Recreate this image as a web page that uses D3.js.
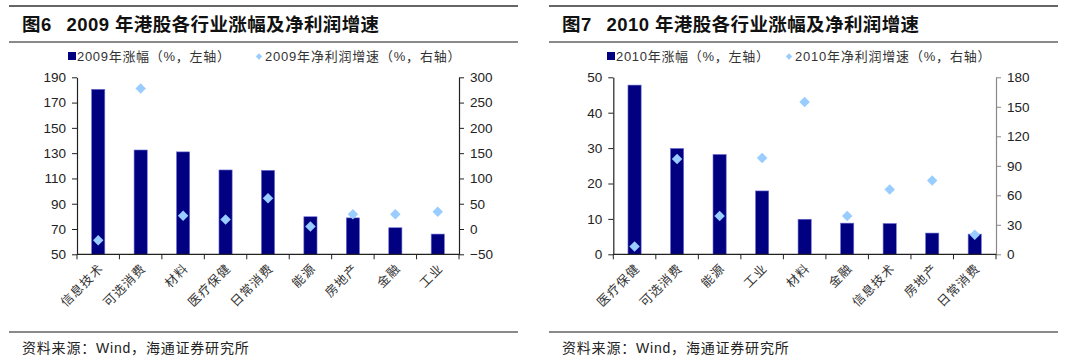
<!DOCTYPE html>
<html><head><meta charset="utf-8">
<script src="https://cdn.jsdelivr.net/npm/d3@7"></script>
<style>
body{margin:0;background:#fff;}
text{font-family:"Liberation Sans","Noto Sans CJK SC",Arial,sans-serif;}
</style></head><body>
<svg id="c" width="1080" height="361"></svg>
<script>
// ---- data ----
const cats2009 = ["信息技术","可选消费","材料","医疗保健","日常消费","能源","房地产","金融","工业"];
const gain2009 = [180.5,132.5,131,116.7,116.4,79.7,78.8,71,66];
const profit2009 = [-22,278,26,19,61,5,29,29,34];
const leftTicks2009 = [50,70,90,110,130,150,170,190];
const rightTicks2009 = [-50,0,50,100,150,200,250,300];

const cats2010 = ["医疗保健","可选消费","能源","工业","材料","金融","信息技术","房地产","日常消费"];
const gain2010 = [47.8,29.9,28.2,17.9,9.9,8.8,8.7,6.0,5.7];
const profit2010 = [8,97,39,98,155,39,66,75,20];
const leftTicks2010 = [0,10,20,30,40,50];
const rightTicks2010 = [0,30,60,90,120,150,180];

const titles = ["2009 年港股各行业涨幅及净利润增速","2010 年港股各行业涨幅及净利润增速"];
const figNums = ["图6","图7"];
const legendBar = ["2009年涨幅（%，左轴）","2010年涨幅（%，左轴）"];
const legendDot = ["2009年净利润增速（%，右轴）","2010年净利润增速（%，右轴）"];
const source = "资料来源：Wind，海通证券研究所";

const svg = d3.select("#c");
const BAR = "#000080", DOT = "#99CCFF";

function panel(o){
  const g = svg.append("g").attr("transform",`translate(${o.ox},0)`);
  // frame lines
  g.append("line").attr("x1",9).attr("x2",o.lineEnd).attr("y1",6).attr("y2",6).attr("stroke","#333").attr("stroke-width",1.5);
  g.append("line").attr("x1",9).attr("x2",o.lineEnd).attr("y1",42).attr("y2",42).attr("stroke","#8a8a8a").attr("stroke-width",2);
  g.append("line").attr("x1",9).attr("x2",o.lineEnd).attr("y1",332).attr("y2",332).attr("stroke","#8a8a8a").attr("stroke-width",2);
  // title
  const t = g.append("text").attr("x",22).attr("y",31).attr("font-size",18.5).attr("font-weight","bold").attr("fill","#111")
    .attr("letter-spacing",0.4)
    .style("font-family","'Liberation Sans','Noto Sans CJK SC',sans-serif");
  t.append("tspan").text(o.fig);
  t.append("tspan").attr("dx",15).text(o.title);
  // source
  g.append("text").attr("x",22).attr("y",353).attr("font-size",14).attr("letter-spacing",0.8).attr("fill","#222").text(source);

  const x0 = o.x0, x1 = o.x1, yTop = 77.3, yBot = 254.3;
  const x = d3.scaleBand().domain(o.cats).range([x0,x1]).paddingInner(0).paddingOuter(0);
  const yl = d3.scaleLinear().domain(o.lDom).range([yBot,yTop]);
  const yr = d3.scaleLinear().domain(o.rDom).range([yBot,yTop]);

  // bars
  const bw = x.bandwidth()*0.31;
  g.selectAll("rect.bar").data(o.gain).join("rect")
    .attr("x",(d,i)=>x(o.cats[i])+x.bandwidth()/2-bw/2)
    .attr("width",bw)
    .attr("y",d=>yl(d)).attr("height",d=>yBot-yl(d))
    .attr("fill",BAR).attr("stroke","#6f6fd6").attr("stroke-width",0.6);

  // diamonds
  g.selectAll("path.dot").data(o.profit).join("path")
    .attr("d",d3.symbol().type(d3.symbolSquare).size(55))
    .attr("transform",(d,i)=>`translate(${x(o.cats[i])+x.bandwidth()/2},${yr(d)}) rotate(45)`)
    .attr("fill",DOT);

  // axes
  const axL = g.append("g").attr("transform",`translate(${x0},0)`)
    .call(d3.axisLeft(yl).tickValues(o.lTicks).tickSize(5).tickPadding(6).tickSizeOuter(0));
  const axR = g.append("g").attr("transform",`translate(${x1},0)`)
    .call(d3.axisRight(yr).tickValues(o.rTicks).tickSize(5).tickPadding(6).tickSizeOuter(0));
  // x axis line + ticks at band boundaries
  const xb = g.append("g");
  xb.append("line").attr("x1",x0).attr("x2",x1).attr("y1",yBot).attr("y2",yBot).attr("stroke","#222").attr("stroke-width",1.2);
  const bounds = o.cats.map(c=>x(c)).concat([x1]);
  xb.selectAll("line.tk").data(bounds).join("line").attr("class","tk")
    .attr("x1",d=>d).attr("x2",d=>d).attr("y1",yBot).attr("y2",yBot+5).attr("stroke","#222");
  [axL,axR].forEach(a=>{
    a.select(".domain").attr("stroke",o.axColor).attr("stroke-width",1.2);
    a.selectAll(".tick line").attr("stroke",o.axColor);
    a.selectAll(".tick text").attr("font-size",13.5).attr("fill","#222")
      .style("font-family","'Liberation Sans',Arial,sans-serif");
  });
  if(o.rightGray){ axR.select(".domain").attr("stroke","#888"); axR.selectAll(".tick line").attr("stroke","#888"); }
  // x labels
  g.selectAll("text.xl").data(o.cats).join("text").attr("class","xl")
    .attr("transform",d=>`translate(${x(d)+x.bandwidth()/2+6},${yBot+15}) rotate(-45)`)
    .attr("text-anchor","end").attr("font-size",12.5).attr("letter-spacing",1).attr("fill","#333")
    .style("font-family","'Noto Sans CJK SC',sans-serif")
    .text(d=>d);

  // legend
  const lg = g.append("g").attr("font-size",13).attr("fill","#333");
  lg.append("rect").attr("x",o.legX1).attr("y",52).attr("width",8).attr("height",8).attr("fill",BAR);
  lg.append("text").attr("x",o.legX1+9).attr("y",61).attr("letter-spacing",0.7).attr("fill","#333").text(o.legBar);
  lg.append("path").attr("d",d3.symbol().type(d3.symbolSquare).size(20)).attr("transform",`translate(${o.legX2},56.5) rotate(45)`).attr("fill",DOT);
  lg.append("text").attr("x",o.legX2+6).attr("y",61).attr("letter-spacing",0.8).attr("fill","#333").text(o.legDot);
}

panel({ox:0,lineEnd:518,fig:figNums[0],title:titles[0],cats:cats2009,gain:gain2009,profit:profit2009,
  lDom:[50,190],rDom:[-50,300],lTicks:leftTicks2009,rTicks:rightTicks2009,x0:77,x1:459,
  legX1:68,legX2:259,legBar:legendBar[0],legDot:legendDot[0],axColor:"#222"});
panel({ox:540,lineEnd:518,fig:figNums[1],title:titles[1],cats:cats2010,gain:gain2010,profit:profit2010,
  lDom:[0,50],rDom:[0,180],lTicks:leftTicks2010,rTicks:rightTicks2010,x0:73.3,x1:456,
  legX1:67,legX2:249,legBar:legendBar[1],legDot:legendDot[1],axColor:"#222",rightGray:true});
</script></body></html>
